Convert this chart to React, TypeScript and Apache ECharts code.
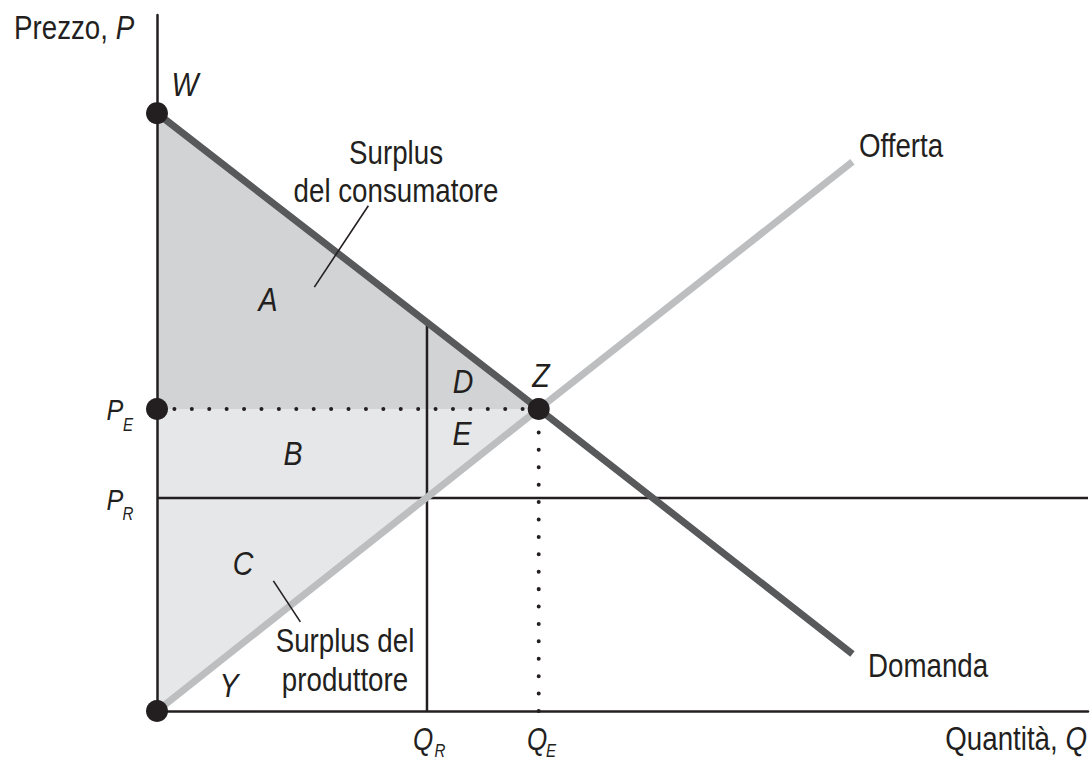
import React, { useEffect, useRef } from "react";
import * as echarts from "echarts";

// ---- data (chart units: Q on x 0..100, P on y 0..100) ----
const W_POINT: [number, number] = [0, 85.9];
const Z_POINT: [number, number] = [41, 43.4];
const Y_POINT: [number, number] = [0, 0];
const PE_POINT: [number, number] = [0, 43.4];
const Q_R = 29;
const P_R = 30.6;
const DEMAND_AT_QR = 55.8;

const demandLine: [number, number][] = [W_POINT, Z_POINT, [74.7, 8.2]];
const supplyLine: [number, number][] = [Y_POINT, Z_POINT, [74.7, 78.9]];
const consumerSurplus: [number, number][] = [W_POINT, Z_POINT, PE_POINT];
const producerSurplus: [number, number][] = [PE_POINT, Z_POINT, Y_POINT];
const priceFloorLine: [number, number][] = [[0, P_R], [100, P_R]];
const quantityRLine: [number, number][] = [[Q_R, 0], [Q_R, DEMAND_AT_QR]];
const dottedH: [number, number][] = [PE_POINT, Z_POINT];
const dottedV: [number, number][] = [[Z_POINT[0], 0], Z_POINT];
const leaderConsumer: [number, number][] = [[22.7, 72.6], [16.9, 60.9]];
const leaderProducer: [number, number][] = [[12.5, 18.7], [15.4, 12.8]];
const dots: [number, number][] = [W_POINT, PE_POINT, Z_POINT, Y_POINT];

const FONT = '"Liberation Sans", Arial, Helvetica, sans-serif';
const SX = 0.84;
const INK = "#231f20";
const DARK_FILL = "#d1d3d4";
const LIGHT_FILL = "#e6e7e8";

function txt(text: string, x: number, y: number, size: number, italic: boolean, align: string = "center") {
  return {
    type: "text",
    x,
    y,
    scaleX: SX,
    z: 20,
    style: {
      text,
      fill: INK,
      fontSize: size,
      fontFamily: FONT,
      fontStyle: italic ? "italic" : "normal",
      textAlign: align,
      textVerticalAlign: "middle",
      align,
      verticalAlign: "middle",
    },
  };
}

function richTxt(a: string, b: string, x: number, y: number, align: string) {
  return {
    type: "text",
    x,
    y,
    scaleX: SX,
    z: 20,
    style: {
      text: "{a|" + a + "}{b|" + b + "}",
      fill: INK,
      fontSize: 33,
      fontFamily: FONT,
      textAlign: align,
      align,
      textVerticalAlign: "middle",
      verticalAlign: "middle",
      rich: {
        a: { fontSize: 33, fontFamily: FONT, fill: INK, color: INK },
        b: { fontSize: 33, fontFamily: FONT, fontStyle: "italic", fill: INK, color: INK },
      },
    },
  };
}

function seg(data: [number, number][], color: string, width: number, z: number, type: any = "solid") {
  return {
    type: "line",
    data,
    symbol: "none",
    showSymbol: false,
    silent: true,
    z,
    lineStyle: { color, width, type, cap: type === "solid" ? "butt" : "round", opacity: 1 },
  };
}

export default function App() {
  const ref = useRef<HTMLDivElement>(null);
  useEffect(() => {
    if (!ref.current) return;
    const chart = echarts.init(ref.current, null, { renderer: "svg" });
    const polys = [consumerSurplus, producerSurplus];
    const fills = [DARK_FILL, LIGHT_FILL];
    const option: any = {
      animation: false,
      grid: { left: 157, top: 15, right: 3, bottom: 51, containLabel: false },
      xAxis: {
        type: "value",
        min: 0,
        max: 100,
        z: 5,
        axisLine: { show: true, lineStyle: { color: INK, width: 2.5 } },
        axisTick: { show: false },
        axisLabel: { show: false },
        splitLine: { show: false },
      },
      yAxis: {
        type: "value",
        min: 0,
        max: 100,
        z: 5,
        axisLine: { show: true, lineStyle: { color: INK, width: 2.5 } },
        axisTick: { show: false },
        axisLabel: { show: false },
        splitLine: { show: false },
      },
      series: [
        {
          type: "custom",
          z: 1,
          silent: true,
          data: [[0], [1]],
          renderItem: (params: any, api: any) => {
            const i = api.value(0);
            return {
              type: "polygon",
              shape: { points: polys[i].map((p) => api.coord(p)) },
              style: { fill: fills[i], stroke: "none" },
            };
          },
        },
        seg(priceFloorLine, INK, 2.5, 2),
        seg(quantityRLine, INK, 2.5, 2),
        seg(supplyLine, "#bcbec0", 7, 3),
        seg(demandLine, "#58595b", 7, 4),
        seg(dottedH, INK, 4, 4, [0.01, 17.4]),
        seg(dottedV, INK, 4, 4, [0.01, 17.4]),
        seg(leaderConsumer, INK, 1.6, 4),
        seg(leaderProducer, INK, 1.6, 4),
        {
          type: "scatter",
          data: dots,
          symbol: "circle",
          symbolSize: 22,
          z: 10,
          silent: true,
          itemStyle: { color: INK, opacity: 1 },
        },
      ],
      graphic: [
        richTxt("Prezzo, ", "P", 14, 27, "left"),
        richTxt("Quantità, ", "Q", 1087, 738, "right"),
        txt("W", 185, 85, 34, true),
        txt("Surplus", 396, 152, 33, false),
        txt("del consumatore", 396, 190, 33, false),
        txt("A", 268, 300, 34, true),
        txt("D", 463, 382, 34, true),
        txt("Z", 541, 376, 34, true),
        txt("E", 462, 434, 34, true),
        txt("B", 293, 454, 34, true),
        txt("C", 243, 564, 34, true),
        txt("Y", 229, 686, 34, true),
        txt("Surplus del", 345, 640, 33, false),
        txt("produttore", 345, 679, 33, false),
        txt("Offerta", 859, 145, 33, false, "left"),
        txt("Domanda", 868, 665, 33, false, "left"),
        txt("P", 115, 410, 30, true),
        txt("E", 128, 425, 18, true),
        txt("P", 115, 500, 30, true),
        txt("R", 128, 514, 18, true),
        txt("Q", 423, 739, 31, true),
        txt("R", 440, 751, 18, true),
        txt("Q", 537, 739, 31, true),
        txt("E", 551, 751, 18, true),
      ],
    };
    chart.setOption(option);
    return () => chart.dispose();
  }, []);
  return (
    <div
      ref={ref}
      style={{ position: "fixed", left: 0, top: 0, width: 1091, height: 762, background: "#ffffff" }}
    />
  );
}
